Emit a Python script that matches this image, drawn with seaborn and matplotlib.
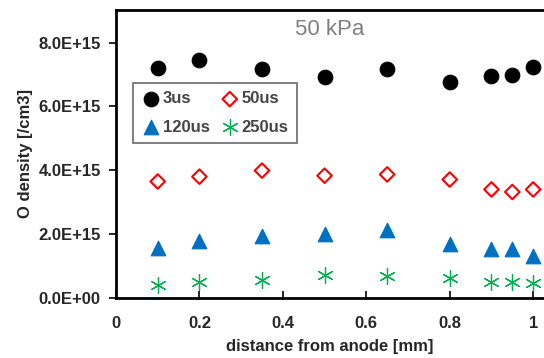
import pandas as pd
import numpy as np
import seaborn as sns
import matplotlib.pyplot as plt

# distance from anode [mm] and O density [/cm3]
distance = [0.1, 0.2, 0.35, 0.5, 0.65, 0.8, 0.9, 0.95, 1.0]
dens_3us = [7.19e15, 7.46e15, 7.17e15, 6.93e15, 7.18e15, 6.77e15, 6.96e15, 6.99e15, 7.22e15]
dens_50us = [3.65e15, 3.80e15, 3.99e15, 3.83e15, 3.87e15, 3.71e15, 3.40e15, 3.32e15, 3.40e15]
dens_120us = [1.58e15, 1.80e15, 1.94e15, 1.99e15, 2.13e15, 1.68e15, 1.52e15, 1.52e15, 1.31e15]
dens_250us = [0.42e15, 0.50e15, 0.56e15, 0.71e15, 0.68e15, 0.62e15, 0.49e15, 0.49e15, 0.46e15]
series_names = ["3us", "50us", "120us", "250us"]

sns.set_style("white")
plt.rcParams['font.family'] = ['Liberation Sans', 'DejaVu Sans']

fig = plt.figure(figsize=(5.44, 3.58), dpi=100)
ax = fig.add_axes([116/544, 60/358, 428/544, 288/358])

styles = [
    dict(marker="o", color="black", edgecolor="black", s=110),
    dict(marker="D", color="none", edgecolor="red", linewidth=1.5, s=55),
    dict(marker="^", color="#0070c0", edgecolor="#0070c0", s=110),
    dict(marker=(6, 2, 0), color="#00b050", edgecolor="#00b050", linewidth=0.9, s=130),
]
for name, vals, st in zip(series_names, [dens_3us, dens_50us, dens_120us, dens_250us], styles):
    sns.scatterplot(x=distance, y=vals, label=name, ax=ax, **st)

ax.set_xlim(0, 1.026)
ax.set_ylim(0, 9.02e15)
ax.set_xticks([0, 0.2, 0.4, 0.6, 0.8, 1.0])
ax.set_xticklabels(["0", "0.2", "0.4", "0.6", "0.8", "1"])
ax.set_yticks([0, 2e15, 4e15, 6e15, 8e15])
ax.set_yticklabels(["0.0E+00", "2.0E+15", "4.0E+15", "6.0E+15", "8.0E+15"])
for lab in ax.get_xticklabels() + ax.get_yticklabels():
    lab.set_fontweight("bold")
    lab.set_fontsize(12)
ax.tick_params(axis="y", direction="out", length=5, width=1.2, color="black", pad=6, left=True)
ax.tick_params(axis="x", direction="in", length=5, width=1.2, color="black", pad=13, bottom=True)
for side in ["left", "bottom", "top"]:
    ax.spines[side].set_color("black")
    ax.spines[side].set_linewidth(2)
ax.spines["right"].set_visible(False)

ax.set_xlabel("distance from anode [mm]", fontsize=12, fontweight="bold", labelpad=6)
ax.set_ylabel("O density [/cm3]", fontsize=12, fontweight="bold", labelpad=4)

ax.text(0.50, 0.97, "50 kPa", transform=ax.transAxes, fontsize=16, color="#808080",
        ha="center", va="top")

# legend rows: 3us / 50us, then 120us / 250us
handles, labels = ax.get_legend_handles_labels()
order = [0, 2, 1, 3]
leg = ax.legend([handles[i] for i in order], [labels[i] for i in order], ncol=2,
                loc="upper left", bbox_to_anchor=(0.02, 0.775), fontsize=12,
                frameon=True, fancybox=False, edgecolor="#444444", handletextpad=0.1,
                columnspacing=0.6, borderpad=0.5, labelspacing=0.8, handlelength=1.2)
leg.get_frame().set_linewidth(1.2)
for t in leg.get_texts():
    t.set_fontweight("bold")
    t.set_color("#444444")

fig.savefig("out.png", dpi=100)
